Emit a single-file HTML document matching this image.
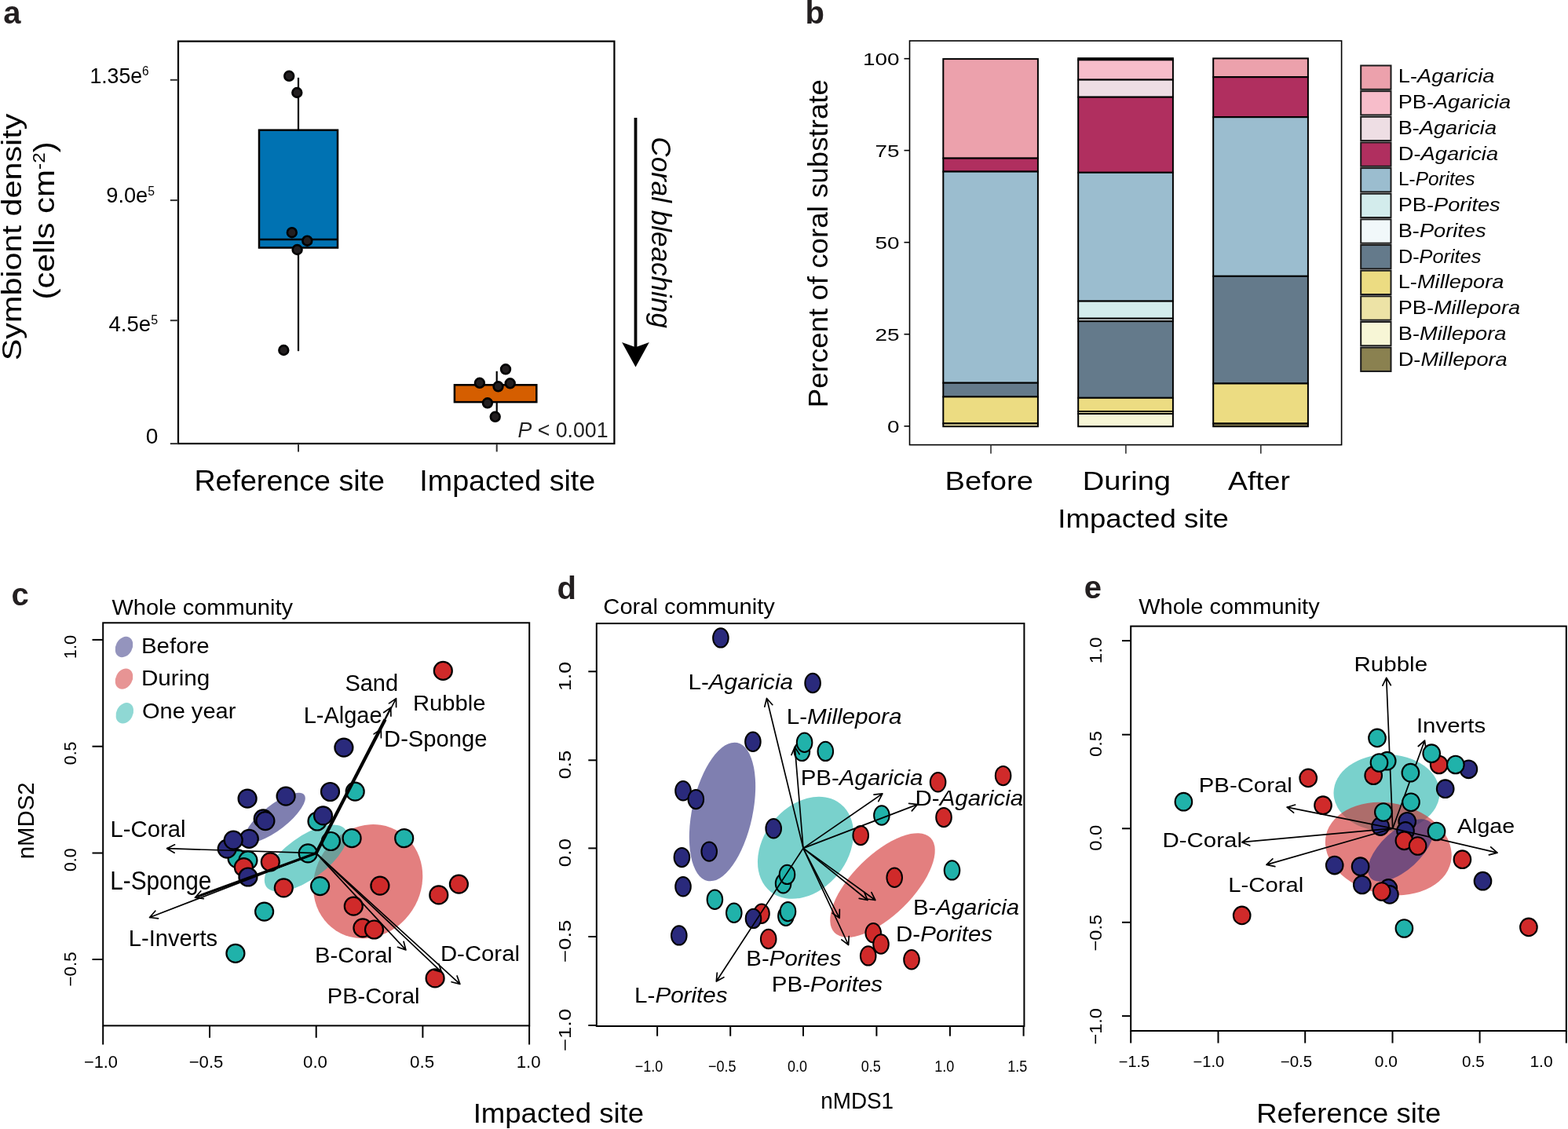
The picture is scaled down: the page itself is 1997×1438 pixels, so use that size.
<!DOCTYPE html>
<html><head><meta charset="utf-8"><title>Coral bleaching figure</title>
<style>
html,body{margin:0;padding:0;background:#fff;}
body{width:1997px;height:1438px;overflow:hidden;}
svg{display:block;}
text{font-family:"Liberation Sans",Arial,Helvetica,sans-serif;font-kerning:none;}
</style></head><body>
<svg width="1997" height="1438" viewBox="0 0 1997 1438">
<rect x="0" y="0" width="1997" height="1438" fill="#fff"/>
<text transform="translate(4.30,29.50) scale(1.0000,1)" font-size="40.00" fill="#231f20" ><tspan font-weight="bold">a</tspan></text>
<rect x="227.00" y="52.60" width="555.40" height="512.40" fill="none" stroke="#000" stroke-width="2.2" />
<line x1="216.80" y1="101.80" x2="227.00" y2="101.80" stroke="#333" stroke-width="2" />
<line x1="216.80" y1="255.10" x2="227.00" y2="255.10" stroke="#333" stroke-width="2" />
<line x1="216.80" y1="408.20" x2="227.00" y2="408.20" stroke="#333" stroke-width="2" />
<line x1="216.80" y1="565.10" x2="227.00" y2="565.10" stroke="#333" stroke-width="2" />
<text transform="translate(114.40,105.50) scale(0.9344,1)" font-size="28.50" fill="#000" ><tspan >1.35e</tspan><tspan font-size="16.50" dy="-9.20">6</tspan></text>
<text transform="translate(135.27,258.30) scale(0.9553,1)" font-size="28.50" fill="#000" ><tspan >9.0e</tspan><tspan font-size="16.50" dy="-9.20">5</tspan></text>
<text transform="translate(138.55,422.30) scale(0.9667,1)" font-size="28.50" fill="#000" ><tspan >4.5e</tspan><tspan font-size="16.50" dy="-9.20">5</tspan></text>
<text transform="translate(185.78,565.40) scale(1.0000,1)" font-size="28.00" fill="#000" ><tspan >0</tspan></text>
<text transform="translate(27.20,459.26) rotate(-90) scale(1.1478,1)" font-size="36.00" fill="#000" ><tspan >Symbiont density</tspan></text>
<text transform="translate(68.90,381.42) rotate(-90) scale(1.1337,1)" font-size="37.00" fill="#000" ><tspan >(cells cm</tspan><tspan font-size="21.50" dy="-12.30">-2</tspan><tspan dy="12.30">)</tspan></text>
<line x1="380.00" y1="98.90" x2="380.00" y2="165.70" stroke="#000" stroke-width="2.2" />
<line x1="380.00" y1="315.50" x2="380.00" y2="447.20" stroke="#000" stroke-width="2.2" />
<rect x="330.00" y="165.70" width="100.00" height="149.80" fill="#0072b2" stroke="#000" stroke-width="2.5" />
<line x1="330.00" y1="305.00" x2="430.00" y2="305.00" stroke="#000" stroke-width="2.5" />
<line x1="632.70" y1="472.80" x2="632.70" y2="490.30" stroke="#000" stroke-width="2.2" />
<line x1="632.70" y1="512.10" x2="632.70" y2="530.30" stroke="#000" stroke-width="2.2" />
<rect x="578.90" y="490.30" width="104.40" height="21.80" fill="#d55e00" stroke="#000" stroke-width="2.5" />
<circle cx="368.2" cy="96.8" r="5.9" fill="#231f20" stroke="#000" stroke-width="2.6"/>
<circle cx="378.3" cy="118.0" r="5.9" fill="#231f20" stroke="#000" stroke-width="2.6"/>
<circle cx="371.8" cy="296.2" r="5.9" fill="#231f20" stroke="#000" stroke-width="2.6"/>
<circle cx="391.3" cy="306.7" r="5.9" fill="#231f20" stroke="#000" stroke-width="2.6"/>
<circle cx="378.6" cy="318.0" r="5.9" fill="#231f20" stroke="#000" stroke-width="2.6"/>
<circle cx="361.3" cy="446.0" r="5.9" fill="#231f20" stroke="#000" stroke-width="2.6"/>
<circle cx="644.0" cy="470.3" r="5.9" fill="#231f20" stroke="#000" stroke-width="2.6"/>
<circle cx="610.9" cy="487.8" r="5.9" fill="#231f20" stroke="#000" stroke-width="2.6"/>
<circle cx="634.5" cy="492.3" r="5.9" fill="#231f20" stroke="#000" stroke-width="2.6"/>
<circle cx="649.7" cy="488.3" r="5.9" fill="#231f20" stroke="#000" stroke-width="2.6"/>
<circle cx="620.9" cy="513.3" r="5.9" fill="#231f20" stroke="#000" stroke-width="2.6"/>
<circle cx="630.7" cy="530.8" r="5.9" fill="#231f20" stroke="#000" stroke-width="2.6"/>
<line x1="380.00" y1="565.00" x2="380.00" y2="575.40" stroke="#333" stroke-width="2" />
<line x1="632.70" y1="565.00" x2="632.70" y2="575.40" stroke="#333" stroke-width="2" />
<text transform="translate(247.39,624.60) scale(1.0280,1)" font-size="36.60" fill="#000" ><tspan >Reference site</tspan></text>
<text transform="translate(534.31,624.60) scale(1.0294,1)" font-size="36.60" fill="#000" ><tspan >Impacted site</tspan></text>
<text transform="translate(659.40,556.60) scale(0.9546,1)" font-size="28.00" fill="#222" ><tspan font-style="italic">P</tspan><tspan > &lt; 0.001</tspan></text>
<line x1="809.50" y1="150.00" x2="809.50" y2="448.00" stroke="#000" stroke-width="3.8" />
<path d="M809.5,467.4 L826.8,436.1 L809.5,442.2 L792.1,436.1 Z" fill="#000"/>
<text transform="translate(830.40,174.37) rotate(90) scale(0.9739,1)" font-size="36.00" fill="#000" ><tspan font-style="italic">Coral bleaching</tspan></text>
<text transform="translate(1025.40,29.50) scale(1.0000,1)" font-size="40.00" fill="#231f20" ><tspan font-weight="bold">b</tspan></text>
<rect x="1158.50" y="52.00" width="550.10" height="514.60" fill="none" stroke="#000" stroke-width="1.6" />
<line x1="1151.50" y1="74.70" x2="1158.50" y2="74.70" stroke="#000" stroke-width="1.6" />
<line x1="1151.50" y1="191.60" x2="1158.50" y2="191.60" stroke="#000" stroke-width="1.6" />
<line x1="1151.50" y1="308.70" x2="1158.50" y2="308.70" stroke="#000" stroke-width="1.6" />
<line x1="1151.50" y1="425.70" x2="1158.50" y2="425.70" stroke="#000" stroke-width="1.6" />
<line x1="1151.50" y1="542.80" x2="1158.50" y2="542.80" stroke="#000" stroke-width="1.6" />
<text transform="translate(1098.96,83.10) scale(1.2500,1)" font-size="22.30" fill="#000" ><tspan >100</tspan></text>
<text transform="translate(1114.57,200.00) scale(1.2500,1)" font-size="22.30" fill="#000" ><tspan >75</tspan></text>
<text transform="translate(1114.43,317.10) scale(1.2500,1)" font-size="22.30" fill="#000" ><tspan >50</tspan></text>
<text transform="translate(1114.57,434.10) scale(1.2500,1)" font-size="22.30" fill="#000" ><tspan >25</tspan></text>
<text transform="translate(1129.90,551.20) scale(1.2500,1)" font-size="22.30" fill="#000" ><tspan >0</tspan></text>
<text transform="translate(1054.20,519.24) rotate(-90) scale(1.0199,1)" font-size="36.00" fill="#000" ><tspan >Percent of coral substrate</tspan></text>
<line x1="1262.00" y1="566.60" x2="1262.00" y2="577.80" stroke="#333" stroke-width="1.6" />
<line x1="1433.90" y1="566.60" x2="1433.90" y2="577.80" stroke="#333" stroke-width="1.6" />
<line x1="1605.80" y1="566.60" x2="1605.80" y2="577.80" stroke="#333" stroke-width="1.6" />
<text transform="translate(1203.55,624.20) scale(1.1379,1)" font-size="33.50" fill="#000" ><tspan >Before</tspan></text>
<text transform="translate(1378.75,624.20) scale(1.1386,1)" font-size="33.50" fill="#000" ><tspan >During</tspan></text>
<text transform="translate(1564.10,624.20) scale(1.1128,1)" font-size="33.50" fill="#000" ><tspan >After</tspan></text>
<text transform="translate(1347.31,672.10) scale(1.0928,1)" font-size="33.50" fill="#000" ><tspan >Impacted site</tspan></text>
<rect x="1201.30" y="75.10" width="120.60" height="126.50" fill="#eca1ac" stroke="#000" stroke-width="2" />
<rect x="1201.30" y="201.60" width="120.60" height="17.00" fill="#b02f5f" stroke="#000" stroke-width="2" />
<rect x="1201.30" y="218.60" width="120.60" height="269.10" fill="#9bbdcf" stroke="#000" stroke-width="2" />
<rect x="1201.30" y="487.70" width="120.60" height="17.70" fill="#647a8b" stroke="#000" stroke-width="2" />
<rect x="1201.30" y="505.40" width="120.60" height="34.00" fill="#ecdc82" stroke="#000" stroke-width="2" />
<rect x="1201.30" y="539.40" width="120.60" height="3.80" fill="#ede3a6" stroke="#000" stroke-width="2" />
<rect x="1373.20" y="74.20" width="120.70" height="2.10" fill="#eca1ac" stroke="#000" stroke-width="2" />
<rect x="1373.20" y="76.30" width="120.70" height="25.30" fill="#f7bdca" stroke="#000" stroke-width="2" />
<rect x="1373.20" y="101.60" width="120.70" height="22.10" fill="#eedee4" stroke="#000" stroke-width="2" />
<rect x="1373.20" y="123.70" width="120.70" height="96.10" fill="#b02f5f" stroke="#000" stroke-width="2" />
<rect x="1373.20" y="219.80" width="120.70" height="163.80" fill="#9bbdcf" stroke="#000" stroke-width="2" />
<rect x="1373.20" y="383.60" width="120.70" height="22.10" fill="#d3ecec" stroke="#000" stroke-width="2" />
<rect x="1373.20" y="405.70" width="120.70" height="3.50" fill="#f1f8fa" stroke="#000" stroke-width="2" />
<rect x="1373.20" y="409.20" width="120.70" height="97.60" fill="#647a8b" stroke="#000" stroke-width="2" />
<rect x="1373.20" y="506.80" width="120.70" height="17.20" fill="#ecdc82" stroke="#000" stroke-width="2" />
<rect x="1373.20" y="524.00" width="120.70" height="3.00" fill="#ede3a6" stroke="#000" stroke-width="2" />
<rect x="1373.20" y="527.00" width="120.70" height="16.20" fill="#f7f6d6" stroke="#000" stroke-width="2" />
<rect x="1545.20" y="74.40" width="120.70" height="23.80" fill="#eca1ac" stroke="#000" stroke-width="2" />
<rect x="1545.20" y="98.20" width="120.70" height="51.00" fill="#b02f5f" stroke="#000" stroke-width="2" />
<rect x="1545.20" y="149.20" width="120.70" height="202.60" fill="#9bbdcf" stroke="#000" stroke-width="2" />
<rect x="1545.20" y="351.80" width="120.70" height="136.70" fill="#647a8b" stroke="#000" stroke-width="2" />
<rect x="1545.20" y="488.50" width="120.70" height="51.00" fill="#ecdc82" stroke="#000" stroke-width="2" />
<rect x="1545.20" y="539.50" width="120.70" height="3.70" fill="#8a8150" stroke="#000" stroke-width="2" />
<rect x="1733.20" y="83.50" width="38.30" height="30.30" fill="#eca1ac" stroke="#1a1a1a" stroke-width="2" />
<text transform="translate(1780.72,105.20) scale(1.1365,1)" font-size="24.00" fill="#000" ><tspan >L-</tspan><tspan font-style="italic">Agaricia</tspan></text>
<rect x="1733.20" y="116.15" width="38.30" height="30.30" fill="#f7bdca" stroke="#1a1a1a" stroke-width="2" />
<text transform="translate(1780.73,137.98) scale(1.1318,1)" font-size="24.00" fill="#000" ><tspan >PB-</tspan><tspan font-style="italic">Agaricia</tspan></text>
<rect x="1733.20" y="148.80" width="38.30" height="30.30" fill="#eedee4" stroke="#1a1a1a" stroke-width="2" />
<text transform="translate(1780.73,170.76) scale(1.1318,1)" font-size="24.00" fill="#000" ><tspan >B-</tspan><tspan font-style="italic">Agaricia</tspan></text>
<rect x="1733.20" y="181.45" width="38.30" height="30.30" fill="#b02f5f" stroke="#1a1a1a" stroke-width="2" />
<text transform="translate(1780.72,203.54) scale(1.1374,1)" font-size="24.00" fill="#000" ><tspan >D-</tspan><tspan font-style="italic">Agaricia</tspan></text>
<rect x="1733.20" y="214.10" width="38.30" height="30.30" fill="#9bbdcf" stroke="#1a1a1a" stroke-width="2" />
<text transform="translate(1780.95,236.32) scale(1.0171,1)" font-size="24.00" fill="#000" ><tspan >L-</tspan><tspan font-style="italic">Porites</tspan></text>
<rect x="1733.20" y="246.75" width="38.30" height="30.30" fill="#d3ecec" stroke="#1a1a1a" stroke-width="2" />
<text transform="translate(1780.72,269.10) scale(1.1334,1)" font-size="24.00" fill="#000" ><tspan >PB-</tspan><tspan font-style="italic">Porites</tspan></text>
<rect x="1733.20" y="279.40" width="38.30" height="30.30" fill="#f1f8fa" stroke="#1a1a1a" stroke-width="2" />
<text transform="translate(1780.72,301.88) scale(1.1333,1)" font-size="24.00" fill="#000" ><tspan >B-</tspan><tspan font-style="italic">Porites</tspan></text>
<rect x="1733.20" y="312.05" width="38.30" height="30.30" fill="#647a8b" stroke="#1a1a1a" stroke-width="2" />
<text transform="translate(1780.88,334.66) scale(1.0545,1)" font-size="24.00" fill="#000" ><tspan >D-</tspan><tspan font-style="italic">Porites</tspan></text>
<rect x="1733.20" y="344.70" width="38.30" height="30.30" fill="#ecdc82" stroke="#1a1a1a" stroke-width="2" />
<text transform="translate(1780.72,367.44) scale(1.1344,1)" font-size="24.00" fill="#000" ><tspan >L-</tspan><tspan font-style="italic">Millepora</tspan></text>
<rect x="1733.20" y="377.35" width="38.30" height="30.30" fill="#ede3a6" stroke="#1a1a1a" stroke-width="2" />
<text transform="translate(1780.73,400.22) scale(1.1304,1)" font-size="24.00" fill="#000" ><tspan >PB-</tspan><tspan font-style="italic">Millepora</tspan></text>
<rect x="1733.20" y="410.00" width="38.30" height="30.30" fill="#f7f6d6" stroke="#1a1a1a" stroke-width="2" />
<text transform="translate(1780.72,433.00) scale(1.1353,1)" font-size="24.00" fill="#000" ><tspan >B-</tspan><tspan font-style="italic">Millepora</tspan></text>
<rect x="1733.20" y="442.65" width="38.30" height="30.30" fill="#8a8150" stroke="#1a1a1a" stroke-width="2" />
<text transform="translate(1780.72,465.78) scale(1.1336,1)" font-size="24.00" fill="#000" ><tspan >D-</tspan><tspan font-style="italic">Millepora</tspan></text>
<text transform="translate(14.40,771.00) scale(1.0000,1)" font-size="40.00" fill="#231f20" ><tspan font-weight="bold">c</tspan></text>
<text transform="translate(142.45,782.50) scale(1.0182,1)" font-size="28.50" fill="#000" ><tspan >Whole community</tspan></text>
<ellipse cx="350.3" cy="1041.3" rx="47.1" ry="16" transform="rotate(-37.8 350.3 1041.3)" fill="#2a2a7c" fill-opacity="0.6"/>
<ellipse cx="468.6" cy="1122.7" rx="67.4" ry="74.7" transform="rotate(33.2 468.6 1122.7)" fill="#d02a2a" fill-opacity="0.6"/>
<ellipse cx="389.5" cy="1093.0" rx="62.1" ry="27" transform="rotate(-35.9 389.5 1093.0)" fill="#20b2aa" fill-opacity="0.6"/>
<ellipse cx="158.0" cy="824.0" rx="10.5" ry="13.8" transform="rotate(28 158.0 824.0)" fill="#2a2a7c" fill-opacity="0.5"/>
<ellipse cx="158.0" cy="864.6" rx="10.5" ry="13.8" transform="rotate(28 158.0 864.6)" fill="#d02a2a" fill-opacity="0.5"/>
<ellipse cx="158.8" cy="908.3" rx="10.5" ry="13.8" transform="rotate(28 158.8 908.3)" fill="#20b2aa" fill-opacity="0.5"/>
<text transform="translate(179.94,832.20) scale(1.0340,1)" font-size="28.50" fill="#000" ><tspan >Before</tspan></text>
<text transform="translate(179.93,873.20) scale(1.0414,1)" font-size="28.50" fill="#000" ><tspan >During</tspan></text>
<text transform="translate(180.99,915.30) scale(1.0180,1)" font-size="28.50" fill="#000" ><tspan >One year</tspan></text>
<circle cx="302.1" cy="1093.6" r="11.5" fill="#20b2aa" stroke="#000" stroke-width="2.2"/>
<circle cx="315.9" cy="1095.8" r="11.5" fill="#20b2aa" stroke="#000" stroke-width="2.2"/>
<circle cx="392.2" cy="1086.8" r="11.5" fill="#20b2aa" stroke="#000" stroke-width="2.2"/>
<circle cx="421.4" cy="1071.5" r="11.5" fill="#20b2aa" stroke="#000" stroke-width="2.2"/>
<circle cx="448.1" cy="1067.7" r="11.5" fill="#20b2aa" stroke="#000" stroke-width="2.2"/>
<circle cx="514.7" cy="1067.7" r="11.5" fill="#20b2aa" stroke="#000" stroke-width="2.2"/>
<circle cx="404.0" cy="1046.0" r="11.5" fill="#20b2aa" stroke="#000" stroke-width="2.2"/>
<circle cx="452.2" cy="1008.2" r="11.5" fill="#20b2aa" stroke="#000" stroke-width="2.2"/>
<circle cx="407.6" cy="1128.6" r="11.5" fill="#20b2aa" stroke="#000" stroke-width="2.2"/>
<circle cx="336.6" cy="1161.1" r="11.5" fill="#20b2aa" stroke="#000" stroke-width="2.2"/>
<circle cx="299.9" cy="1214.3" r="11.5" fill="#20b2aa" stroke="#000" stroke-width="2.2"/>
<circle cx="564.3" cy="854.4" r="11.5" fill="#d02a2a" stroke="#000" stroke-width="2.2"/>
<circle cx="310.4" cy="1104.7" r="11.5" fill="#d02a2a" stroke="#000" stroke-width="2.2"/>
<circle cx="344.3" cy="1097.8" r="11.5" fill="#d02a2a" stroke="#000" stroke-width="2.2"/>
<circle cx="361.3" cy="1130.8" r="11.5" fill="#d02a2a" stroke="#000" stroke-width="2.2"/>
<circle cx="483.9" cy="1128.1" r="11.5" fill="#d02a2a" stroke="#000" stroke-width="2.2"/>
<circle cx="584.4" cy="1126.1" r="11.5" fill="#d02a2a" stroke="#000" stroke-width="2.2"/>
<circle cx="558.8" cy="1139.9" r="11.5" fill="#d02a2a" stroke="#000" stroke-width="2.2"/>
<circle cx="450.3" cy="1154.2" r="11.5" fill="#d02a2a" stroke="#000" stroke-width="2.2"/>
<circle cx="461.9" cy="1181.8" r="11.5" fill="#d02a2a" stroke="#000" stroke-width="2.2"/>
<circle cx="476.5" cy="1184.0" r="11.5" fill="#d02a2a" stroke="#000" stroke-width="2.2"/>
<circle cx="554.1" cy="1245.9" r="11.5" fill="#d02a2a" stroke="#000" stroke-width="2.2"/>
<circle cx="437.9" cy="952.1" r="11.5" fill="#2a2a7c" stroke="#000" stroke-width="2.2"/>
<circle cx="420.5" cy="1008.5" r="11.5" fill="#2a2a7c" stroke="#000" stroke-width="2.2"/>
<circle cx="315.1" cy="1017.2" r="11.5" fill="#2a2a7c" stroke="#000" stroke-width="2.2"/>
<circle cx="364.1" cy="1014.2" r="11.5" fill="#2a2a7c" stroke="#000" stroke-width="2.2"/>
<circle cx="335.2" cy="1042.9" r="11.5" fill="#2a2a7c" stroke="#000" stroke-width="2.2"/>
<circle cx="337.9" cy="1045.6" r="11.5" fill="#2a2a7c" stroke="#000" stroke-width="2.2"/>
<circle cx="411.5" cy="1038.8" r="11.5" fill="#2a2a7c" stroke="#000" stroke-width="2.2"/>
<circle cx="317.3" cy="1068.3" r="11.5" fill="#2a2a7c" stroke="#000" stroke-width="2.2"/>
<circle cx="289.2" cy="1081.1" r="11.5" fill="#2a2a7c" stroke="#000" stroke-width="2.2"/>
<circle cx="297.2" cy="1070.1" r="11.5" fill="#2a2a7c" stroke="#000" stroke-width="2.2"/>
<circle cx="315.9" cy="1117.0" r="11.5" fill="#2a2a7c" stroke="#000" stroke-width="2.2"/>
<line x1="402.60" y1="1086.70" x2="490.50" y2="916.50" stroke="#000" stroke-width="4.2" />
<line x1="402.60" y1="1086.70" x2="252.00" y2="1141.80" stroke="#000" stroke-width="3.2" />
<path d="M402.6,1086.7L212.6,1080.7M222.5,1075.8L212.6,1080.7L222.1,1086.2" fill="none" stroke="#000" stroke-width="1.7" stroke-linecap="round" stroke-linejoin="round"/>
<path d="M402.6,1086.7L248.4,1143.2M255.7,1135.0L248.4,1143.2L259.3,1144.7" fill="none" stroke="#000" stroke-width="1.7" stroke-linecap="round" stroke-linejoin="round"/>
<path d="M402.6,1086.7L190.6,1168.5M197.8,1160.2L190.6,1168.5L201.5,1169.8" fill="none" stroke="#000" stroke-width="1.7" stroke-linecap="round" stroke-linejoin="round"/>
<path d="M402.6,1086.7L516.9,1209.9M506.5,1206.3L516.9,1209.9L514.1,1199.3" fill="none" stroke="#000" stroke-width="1.7" stroke-linecap="round" stroke-linejoin="round"/>
<path d="M402.6,1086.7L562.4,1238.2M551.8,1235.3L562.4,1238.2L558.9,1227.8" fill="none" stroke="#000" stroke-width="1.7" stroke-linecap="round" stroke-linejoin="round"/>
<path d="M402.6,1086.7L585.8,1253.4M575.1,1250.7L585.8,1253.4L582.1,1243.0" fill="none" stroke="#000" stroke-width="1.7" stroke-linecap="round" stroke-linejoin="round"/>
<path d="M402.6,1086.7L504.5,889.6M504.6,900.6L504.5,889.6L495.5,895.9" fill="none" stroke="#000" stroke-width="1.7" stroke-linecap="round" stroke-linejoin="round"/>
<path d="M402.6,1086.7L497.7,901.2M497.9,912.2L497.7,901.2L488.7,907.5" fill="none" stroke="#000" stroke-width="1.7" stroke-linecap="round" stroke-linejoin="round"/>
<path d="M402.6,1086.7L485.3,928.7M485.4,939.7L485.3,928.7L476.2,934.9" fill="none" stroke="#000" stroke-width="1.7" stroke-linecap="round" stroke-linejoin="round"/>
<text transform="translate(140.56,1066.30) scale(0.9988,1)" font-size="29.30" fill="#000" ><tspan >L-Coral</tspan></text>
<text transform="translate(140.22,1132.90) scale(0.9081,1)" font-size="32.80" fill="#000" ><tspan >L-Sponge</tspan></text>
<text transform="translate(163.77,1204.80) scale(1.0083,1)" font-size="28.90" fill="#000" ><tspan >L-Inverts</tspan></text>
<text transform="translate(400.97,1226.00) scale(1.0612,1)" font-size="27.50" fill="#000" ><tspan >B-Coral</tspan></text>
<text transform="translate(560.95,1223.90) scale(1.0552,1)" font-size="27.80" fill="#000" ><tspan >D-Coral</tspan></text>
<text transform="translate(416.78,1278.30) scale(1.0565,1)" font-size="27.50" fill="#000" ><tspan >PB-Coral</tspan></text>
<text transform="translate(439.40,879.70) scale(0.9996,1)" font-size="29.00" fill="#000" ><tspan >Sand</tspan></text>
<text transform="translate(525.96,905.10) scale(1.0540,1)" font-size="27.70" fill="#000" ><tspan >Rubble</tspan></text>
<text transform="translate(386.68,921.10) scale(0.9992,1)" font-size="29.00" fill="#000" ><tspan >L-Algae</tspan></text>
<text transform="translate(489.06,950.80) scale(1.0100,1)" font-size="28.90" fill="#000" ><tspan >D-Sponge</tspan></text>
<rect x="131.20" y="793.30" width="543.00" height="513.10" fill="none" stroke="#000" stroke-width="2" />
<line x1="117.50" y1="814.90" x2="131.20" y2="814.90" stroke="#000" stroke-width="2" />
<line x1="117.50" y1="950.70" x2="131.20" y2="950.70" stroke="#000" stroke-width="2" />
<line x1="117.50" y1="1086.50" x2="131.20" y2="1086.50" stroke="#000" stroke-width="2" />
<line x1="117.50" y1="1222.00" x2="131.20" y2="1222.00" stroke="#000" stroke-width="2" />
<line x1="131.20" y1="1306.40" x2="131.20" y2="1330.50" stroke="#000" stroke-width="2" />
<line x1="267.00" y1="1306.40" x2="267.00" y2="1321.80" stroke="#000" stroke-width="2" />
<line x1="402.70" y1="1306.40" x2="402.70" y2="1321.80" stroke="#000" stroke-width="2" />
<line x1="538.40" y1="1306.40" x2="538.40" y2="1321.80" stroke="#000" stroke-width="2" />
<line x1="674.10" y1="1306.40" x2="674.10" y2="1330.50" stroke="#000" stroke-width="2" />
<text transform="translate(96.80,839.13) rotate(-90) scale(1.0009,1)" font-size="21.70" fill="#000" ><tspan >1.0</tspan></text>
<text transform="translate(96.80,974.15) rotate(-90) scale(0.9779,1)" font-size="21.70" fill="#000" ><tspan >0.5</tspan></text>
<text transform="translate(96.80,1109.95) rotate(-90) scale(0.9742,1)" font-size="21.70" fill="#000" ><tspan >0.0</tspan></text>
<text transform="translate(96.80,1256.41) rotate(-90) scale(1.0268,1)" font-size="21.70" fill="#000" ><tspan >−0.5</tspan></text>
<text transform="translate(106.91,1360.20) scale(1.0164,1)" font-size="21.50" fill="#000" ><tspan >−1.0</tspan></text>
<text transform="translate(240.69,1360.20) scale(1.0289,1)" font-size="21.50" fill="#000" ><tspan >−0.5</tspan></text>
<text transform="translate(386.11,1360.20) scale(1.0328,1)" font-size="21.50" fill="#000" ><tspan >0.0</tspan></text>
<text transform="translate(522.01,1360.20) scale(1.0403,1)" font-size="21.50" fill="#000" ><tspan >0.5</tspan></text>
<text transform="translate(657.63,1360.20) scale(1.0356,1)" font-size="21.50" fill="#000" ><tspan >1.0</tspan></text>
<text transform="translate(43.40,1094.31) rotate(-90) scale(1.0131,1)" font-size="29.00" fill="#000" ><tspan >nMDS2</tspan></text>
<text transform="translate(602.71,1429.90) scale(1.0178,1)" font-size="35.90" fill="#000" ><tspan >Impacted site</tspan></text>
<text transform="translate(709.60,762.60) scale(1.0000,1)" font-size="40.00" fill="#231f20" ><tspan font-weight="bold">d</tspan></text>
<text transform="translate(768.34,782.10) scale(1.0225,1)" font-size="28.50" fill="#000" ><tspan >Coral community</tspan></text>
<ellipse cx="920.0" cy="1034.0" rx="38.5" ry="90" transform="rotate(12.2 920.0 1034.0)" fill="#2a2a7c" fill-opacity="0.6"/>
<ellipse cx="1026.0" cy="1079.8" rx="53.3" ry="71.5" transform="rotate(38.6 1026.0 1079.8)" fill="#20b2aa" fill-opacity="0.6"/>
<ellipse cx="1124.0" cy="1127.5" rx="38.4" ry="85.9" transform="rotate(45.3 1124.0 1127.5)" fill="#d02a2a" fill-opacity="0.6"/>
<ellipse cx="917.9" cy="812.4" rx="9.8" ry="12.2" fill="#2a2a7c" stroke="#000" stroke-width="2.0"/>
<ellipse cx="1035.1" cy="870.0" rx="9.8" ry="12.2" fill="#2a2a7c" stroke="#000" stroke-width="2.0"/>
<ellipse cx="958.9" cy="944.8" rx="9.8" ry="12.2" fill="#2a2a7c" stroke="#000" stroke-width="2.0"/>
<ellipse cx="1021.4" cy="956.9" rx="9.8" ry="12.2" fill="#20b2aa" stroke="#000" stroke-width="2.0"/>
<ellipse cx="1024.6" cy="945.8" rx="9.8" ry="12.2" fill="#20b2aa" stroke="#000" stroke-width="2.0"/>
<ellipse cx="1051.3" cy="956.9" rx="9.8" ry="12.2" fill="#20b2aa" stroke="#000" stroke-width="2.0"/>
<ellipse cx="870.0" cy="1007.3" rx="9.8" ry="12.2" fill="#2a2a7c" stroke="#000" stroke-width="2.0"/>
<ellipse cx="886.3" cy="1018.1" rx="9.8" ry="12.2" fill="#2a2a7c" stroke="#000" stroke-width="2.0"/>
<ellipse cx="1194.6" cy="996.3" rx="9.8" ry="12.2" fill="#d02a2a" stroke="#000" stroke-width="2.0"/>
<ellipse cx="1277.6" cy="988.1" rx="9.8" ry="12.2" fill="#d02a2a" stroke="#000" stroke-width="2.0"/>
<ellipse cx="1122.9" cy="1038.5" rx="9.8" ry="12.2" fill="#20b2aa" stroke="#000" stroke-width="2.0"/>
<ellipse cx="1202.0" cy="1041.1" rx="9.8" ry="12.2" fill="#d02a2a" stroke="#000" stroke-width="2.0"/>
<ellipse cx="985.2" cy="1055.3" rx="9.8" ry="12.2" fill="#2a2a7c" stroke="#000" stroke-width="2.0"/>
<ellipse cx="1096.2" cy="1064.1" rx="9.8" ry="12.2" fill="#d02a2a" stroke="#000" stroke-width="2.0"/>
<ellipse cx="903.2" cy="1084.6" rx="9.8" ry="12.2" fill="#2a2a7c" stroke="#000" stroke-width="2.0"/>
<ellipse cx="868.4" cy="1092.1" rx="9.8" ry="12.2" fill="#2a2a7c" stroke="#000" stroke-width="2.0"/>
<ellipse cx="1212.5" cy="1108.4" rx="9.8" ry="12.2" fill="#20b2aa" stroke="#000" stroke-width="2.0"/>
<ellipse cx="1139.2" cy="1117.8" rx="9.8" ry="12.2" fill="#d02a2a" stroke="#000" stroke-width="2.0"/>
<ellipse cx="997.6" cy="1125.3" rx="9.8" ry="12.2" fill="#20b2aa" stroke="#000" stroke-width="2.0"/>
<ellipse cx="1002.5" cy="1113.9" rx="9.8" ry="12.2" fill="#20b2aa" stroke="#000" stroke-width="2.0"/>
<ellipse cx="870.0" cy="1129.2" rx="9.8" ry="12.2" fill="#2a2a7c" stroke="#000" stroke-width="2.0"/>
<ellipse cx="910.4" cy="1145.8" rx="9.8" ry="12.2" fill="#20b2aa" stroke="#000" stroke-width="2.0"/>
<ellipse cx="934.8" cy="1162.8" rx="9.8" ry="12.2" fill="#20b2aa" stroke="#000" stroke-width="2.0"/>
<ellipse cx="970.0" cy="1163.7" rx="9.8" ry="12.2" fill="#d02a2a" stroke="#000" stroke-width="2.0"/>
<ellipse cx="959.5" cy="1169.9" rx="9.8" ry="12.2" fill="#2a2a7c" stroke="#000" stroke-width="2.0"/>
<ellipse cx="1000.9" cy="1166.7" rx="9.8" ry="12.2" fill="#20b2aa" stroke="#000" stroke-width="2.0"/>
<ellipse cx="1003.5" cy="1161.1" rx="9.8" ry="12.2" fill="#20b2aa" stroke="#000" stroke-width="2.0"/>
<ellipse cx="864.8" cy="1191.4" rx="9.8" ry="12.2" fill="#2a2a7c" stroke="#000" stroke-width="2.0"/>
<ellipse cx="978.7" cy="1196.0" rx="9.8" ry="12.2" fill="#d02a2a" stroke="#000" stroke-width="2.0"/>
<ellipse cx="1112.2" cy="1188.2" rx="9.8" ry="12.2" fill="#d02a2a" stroke="#000" stroke-width="2.0"/>
<ellipse cx="1122.0" cy="1202.5" rx="9.8" ry="12.2" fill="#d02a2a" stroke="#000" stroke-width="2.0"/>
<ellipse cx="1105.7" cy="1217.4" rx="9.8" ry="12.2" fill="#d02a2a" stroke="#000" stroke-width="2.0"/>
<ellipse cx="1161.0" cy="1222.3" rx="9.8" ry="12.2" fill="#d02a2a" stroke="#000" stroke-width="2.0"/>
<path d="M1023.0,1080.4L976.5,889.5M983.8,897.7L976.5,889.5L973.8,900.2" fill="none" stroke="#000" stroke-width="1.7" stroke-linecap="round" stroke-linejoin="round"/>
<path d="M1023.0,1080.4L1012.3,951.4M1018.2,960.7L1012.3,951.4L1008.0,961.5" fill="none" stroke="#000" stroke-width="1.7" stroke-linecap="round" stroke-linejoin="round"/>
<path d="M1023.0,1080.4L1123.9,1010.9M1118.8,1020.7L1123.9,1010.9L1113.0,1012.2" fill="none" stroke="#000" stroke-width="1.7" stroke-linecap="round" stroke-linejoin="round"/>
<path d="M1023.0,1080.4L1168.5,1024.6M1161.3,1032.9L1168.5,1024.6L1157.6,1023.3" fill="none" stroke="#000" stroke-width="1.7" stroke-linecap="round" stroke-linejoin="round"/>
<path d="M1023.0,1080.4L1114.8,1146.5M1103.9,1145.0L1114.8,1146.5L1109.9,1136.6" fill="none" stroke="#000" stroke-width="1.7" stroke-linecap="round" stroke-linejoin="round"/>
<path d="M1023.0,1080.4L1105.0,1146.5M1094.2,1144.4L1105.0,1146.5L1100.7,1136.4" fill="none" stroke="#000" stroke-width="1.7" stroke-linecap="round" stroke-linejoin="round"/>
<path d="M1023.0,1080.4L1069.2,1169.3M1060.1,1163.1L1069.2,1169.3L1069.3,1158.3" fill="none" stroke="#000" stroke-width="1.7" stroke-linecap="round" stroke-linejoin="round"/>
<path d="M1023.0,1080.4L1080.6,1203.5M1071.8,1196.9L1080.6,1203.5L1081.2,1192.5" fill="none" stroke="#000" stroke-width="1.7" stroke-linecap="round" stroke-linejoin="round"/>
<path d="M1023.0,1080.4L912.3,1250.0M913.3,1239.0L912.3,1250.0L921.9,1244.7" fill="none" stroke="#000" stroke-width="1.7" stroke-linecap="round" stroke-linejoin="round"/>
<text transform="translate(876.42,878.10) scale(1.0418,1)" font-size="28.50" fill="#000" ><tspan >L-</tspan><tspan font-style="italic">Agaricia</tspan></text>
<text transform="translate(1001.73,922.10) scale(1.0410,1)" font-size="28.50" fill="#000" ><tspan >L-</tspan><tspan font-style="italic">Millepora</tspan></text>
<text transform="translate(1019.64,1000.20) scale(1.0353,1)" font-size="28.50" fill="#000" ><tspan >PB-</tspan><tspan font-style="italic">Agaricia</tspan></text>
<text transform="translate(1165.54,1026.20) scale(1.0341,1)" font-size="28.50" fill="#000" ><tspan >D-</tspan><tspan font-style="italic">Agaricia</tspan></text>
<text transform="translate(1162.95,1165.40) scale(1.0288,1)" font-size="28.50" fill="#000" ><tspan >B-</tspan><tspan font-style="italic">Agaricia</tspan></text>
<text transform="translate(1141.04,1198.60) scale(1.0363,1)" font-size="28.50" fill="#000" ><tspan >D-</tspan><tspan font-style="italic">Porites</tspan></text>
<text transform="translate(950.34,1229.50) scale(1.0330,1)" font-size="28.50" fill="#000" ><tspan >B-</tspan><tspan font-style="italic">Porites</tspan></text>
<text transform="translate(982.83,1263.00) scale(1.0376,1)" font-size="28.50" fill="#000" ><tspan >PB-</tspan><tspan font-style="italic">Porites</tspan></text>
<text transform="translate(808.03,1277.30) scale(1.0400,1)" font-size="28.50" fill="#000" ><tspan >L-</tspan><tspan font-style="italic">Porites</tspan></text>
<rect x="759.80" y="794.10" width="544.60" height="512.90" fill="none" stroke="#000" stroke-width="2" />
<line x1="749.30" y1="855.30" x2="759.80" y2="855.30" stroke="#000" stroke-width="2" />
<line x1="749.30" y1="968.30" x2="759.80" y2="968.30" stroke="#000" stroke-width="2" />
<line x1="749.30" y1="1080.40" x2="759.80" y2="1080.40" stroke="#000" stroke-width="2" />
<line x1="749.30" y1="1193.00" x2="759.80" y2="1193.00" stroke="#000" stroke-width="2" />
<line x1="749.30" y1="1306.00" x2="759.80" y2="1306.00" stroke="#000" stroke-width="2" />
<line x1="837.10" y1="1307.00" x2="837.10" y2="1319.70" stroke="#000" stroke-width="2" />
<line x1="930.20" y1="1307.00" x2="930.20" y2="1319.70" stroke="#000" stroke-width="2" />
<line x1="1023.00" y1="1307.00" x2="1023.00" y2="1319.70" stroke="#000" stroke-width="2" />
<line x1="1116.40" y1="1307.00" x2="1116.40" y2="1319.70" stroke="#000" stroke-width="2" />
<line x1="1209.90" y1="1307.00" x2="1209.90" y2="1319.70" stroke="#000" stroke-width="2" />
<line x1="1303.60" y1="1307.00" x2="1303.60" y2="1319.70" stroke="#000" stroke-width="2" />
<text transform="translate(726.70,880.12) rotate(-90) scale(1.2385,1)" font-size="21.70" fill="#000" ><tspan >1.0</tspan></text>
<text transform="translate(726.70,992.15) rotate(-90) scale(1.2101,1)" font-size="21.70" fill="#000" ><tspan >0.5</tspan></text>
<text transform="translate(726.70,1104.25) rotate(-90) scale(1.2055,1)" font-size="21.70" fill="#000" ><tspan >0.0</tspan></text>
<text transform="translate(726.70,1225.98) rotate(-90) scale(1.2713,1)" font-size="21.70" fill="#000" ><tspan >−0.5</tspan></text>
<text transform="translate(726.70,1338.98) rotate(-90) scale(1.2679,1)" font-size="21.70" fill="#000" ><tspan >−1.0</tspan></text>
<text transform="translate(808.79,1365.30) scale(0.9000,1)" font-size="20.00" fill="#000" ><tspan >−1.0</tspan></text>
<text transform="translate(901.93,1365.30) scale(0.9000,1)" font-size="20.00" fill="#000" ><tspan >−0.5</tspan></text>
<text transform="translate(1002.94,1365.30) scale(0.9000,1)" font-size="20.00" fill="#000" ><tspan >0.0</tspan></text>
<text transform="translate(1096.79,1365.30) scale(0.9000,1)" font-size="20.00" fill="#000" ><tspan >0.5</tspan></text>
<text transform="translate(1190.13,1365.30) scale(0.9000,1)" font-size="20.00" fill="#000" ><tspan >1.0</tspan></text>
<text transform="translate(1283.28,1365.30) scale(0.9000,1)" font-size="20.00" fill="#000" ><tspan >1.5</tspan></text>
<text transform="translate(1045.19,1411.80) scale(0.9646,1)" font-size="28.90" fill="#000" ><tspan >nMDS1</tspan></text>
<text transform="translate(1380.70,761.90) scale(1.0000,1)" font-size="40.00" fill="#231f20" ><tspan font-weight="bold">e</tspan></text>
<text transform="translate(1450.15,781.70) scale(1.0182,1)" font-size="28.50" fill="#000" ><tspan >Whole community</tspan></text>
<ellipse cx="1766.0" cy="1010.0" rx="67.5" ry="49" transform="rotate(0 1766.0 1010.0)" fill="#20b2aa" fill-opacity="0.6"/>
<ellipse cx="1768.3" cy="1081.0" rx="81.3" ry="58" transform="rotate(12 1768.3 1081.0)" fill="#d02a2a" fill-opacity="0.6"/>
<ellipse cx="1784.0" cy="1083.0" rx="52" ry="25" transform="rotate(-42.5 1784.0 1083.0)" fill="#2a2a7c" fill-opacity="0.6"/>
<ellipse cx="1870.4" cy="979.8" rx="10.8" ry="11.3" fill="#2a2a7c" stroke="#000" stroke-width="2.1"/>
<ellipse cx="1840.7" cy="1004.7" rx="10.8" ry="11.3" fill="#2a2a7c" stroke="#000" stroke-width="2.1"/>
<ellipse cx="1758.1" cy="1052.6" rx="10.8" ry="11.3" fill="#2a2a7c" stroke="#000" stroke-width="2.1"/>
<ellipse cx="1792.2" cy="1046.3" rx="10.8" ry="11.3" fill="#2a2a7c" stroke="#000" stroke-width="2.1"/>
<ellipse cx="1790.0" cy="1058.4" rx="10.8" ry="11.3" fill="#2a2a7c" stroke="#000" stroke-width="2.1"/>
<ellipse cx="1699.7" cy="1102.1" rx="10.8" ry="11.3" fill="#2a2a7c" stroke="#000" stroke-width="2.1"/>
<ellipse cx="1732.6" cy="1103.7" rx="10.8" ry="11.3" fill="#2a2a7c" stroke="#000" stroke-width="2.1"/>
<ellipse cx="1734.8" cy="1127.0" rx="10.8" ry="11.3" fill="#2a2a7c" stroke="#000" stroke-width="2.1"/>
<ellipse cx="1768.3" cy="1131.4" rx="10.8" ry="11.3" fill="#2a2a7c" stroke="#000" stroke-width="2.1"/>
<ellipse cx="1769.9" cy="1139.4" rx="10.8" ry="11.3" fill="#2a2a7c" stroke="#000" stroke-width="2.1"/>
<ellipse cx="1888.5" cy="1122.2" rx="10.8" ry="11.3" fill="#2a2a7c" stroke="#000" stroke-width="2.1"/>
<ellipse cx="1749.2" cy="987.7" rx="10.8" ry="11.3" fill="#d02a2a" stroke="#000" stroke-width="2.1"/>
<ellipse cx="1832.7" cy="974.0" rx="10.8" ry="11.3" fill="#d02a2a" stroke="#000" stroke-width="2.1"/>
<ellipse cx="1666.2" cy="990.9" rx="10.8" ry="11.3" fill="#d02a2a" stroke="#000" stroke-width="2.1"/>
<ellipse cx="1685.0" cy="1025.7" rx="10.8" ry="11.3" fill="#d02a2a" stroke="#000" stroke-width="2.1"/>
<ellipse cx="1788.4" cy="1070.8" rx="10.8" ry="11.3" fill="#d02a2a" stroke="#000" stroke-width="2.1"/>
<ellipse cx="1805.6" cy="1077.5" rx="10.8" ry="11.3" fill="#d02a2a" stroke="#000" stroke-width="2.1"/>
<ellipse cx="1862.4" cy="1094.7" rx="10.8" ry="11.3" fill="#d02a2a" stroke="#000" stroke-width="2.1"/>
<ellipse cx="1759.7" cy="1135.6" rx="10.8" ry="11.3" fill="#d02a2a" stroke="#000" stroke-width="2.1"/>
<ellipse cx="1581.7" cy="1165.9" rx="10.8" ry="11.3" fill="#d02a2a" stroke="#000" stroke-width="2.1"/>
<ellipse cx="1946.9" cy="1180.9" rx="10.8" ry="11.3" fill="#d02a2a" stroke="#000" stroke-width="2.1"/>
<path d="M1773.7,1055.2L1765.7,863.3M1771.3,872.8L1765.7,863.3L1760.9,873.2" fill="none" stroke="#000" stroke-width="1.7" stroke-linecap="round" stroke-linejoin="round"/>
<path d="M1773.7,1055.2L1814.5,943.1M1816.0,954.0L1814.5,943.1L1806.3,950.5" fill="none" stroke="#000" stroke-width="1.7" stroke-linecap="round" stroke-linejoin="round"/>
<path d="M1773.7,1055.2L1639.1,1028.2M1649.6,1025.0L1639.1,1028.2L1647.6,1035.2" fill="none" stroke="#000" stroke-width="1.7" stroke-linecap="round" stroke-linejoin="round"/>
<path d="M1773.7,1055.2L1581.7,1072.7M1590.9,1066.7L1581.7,1072.7L1591.8,1077.0" fill="none" stroke="#000" stroke-width="1.7" stroke-linecap="round" stroke-linejoin="round"/>
<path d="M1773.7,1055.2L1613.0,1101.4M1620.9,1093.8L1613.0,1101.4L1623.8,1103.7" fill="none" stroke="#000" stroke-width="1.7" stroke-linecap="round" stroke-linejoin="round"/>
<path d="M1773.7,1055.2L1907.0,1086.1M1896.4,1088.9L1907.0,1086.1L1898.7,1078.9" fill="none" stroke="#000" stroke-width="1.7" stroke-linecap="round" stroke-linejoin="round"/>
<ellipse cx="1754.0" cy="939.9" rx="10.8" ry="11.3" fill="#20b2aa" stroke="#000" stroke-width="2.1"/>
<ellipse cx="1766.7" cy="969.2" rx="10.8" ry="11.3" fill="#20b2aa" stroke="#000" stroke-width="2.1"/>
<ellipse cx="1756.5" cy="971.5" rx="10.8" ry="11.3" fill="#20b2aa" stroke="#000" stroke-width="2.1"/>
<ellipse cx="1796.4" cy="984.2" rx="10.8" ry="11.3" fill="#20b2aa" stroke="#000" stroke-width="2.1"/>
<ellipse cx="1823.2" cy="959.7" rx="10.8" ry="11.3" fill="#20b2aa" stroke="#000" stroke-width="2.1"/>
<ellipse cx="1853.8" cy="974.0" rx="10.8" ry="11.3" fill="#20b2aa" stroke="#000" stroke-width="2.1"/>
<ellipse cx="1507.4" cy="1021.2" rx="10.8" ry="11.3" fill="#20b2aa" stroke="#000" stroke-width="2.1"/>
<ellipse cx="1797.0" cy="1021.8" rx="10.8" ry="11.3" fill="#20b2aa" stroke="#000" stroke-width="2.1"/>
<ellipse cx="1761.9" cy="1034.5" rx="10.8" ry="11.3" fill="#20b2aa" stroke="#000" stroke-width="2.1"/>
<ellipse cx="1829.5" cy="1059.0" rx="10.8" ry="11.3" fill="#20b2aa" stroke="#000" stroke-width="2.1"/>
<ellipse cx="1788.4" cy="1182.5" rx="10.8" ry="11.3" fill="#20b2aa" stroke="#000" stroke-width="2.1"/>
<text transform="translate(1724.44,855.00) scale(1.1591,1)" font-size="25.50" fill="#000" ><tspan >Rubble</tspan></text>
<text transform="translate(1803.95,932.90) scale(1.1526,1)" font-size="25.50" fill="#000" ><tspan >Inverts</tspan></text>
<text transform="translate(1526.75,1009.10) scale(1.1514,1)" font-size="25.50" fill="#000" ><tspan >PB-Coral</tspan></text>
<text transform="translate(1856.00,1060.60) scale(1.1218,1)" font-size="25.50" fill="#000" ><tspan >Algae</tspan></text>
<text transform="translate(1480.44,1079.10) scale(1.1563,1)" font-size="25.50" fill="#000" ><tspan >D-Coral</tspan></text>
<text transform="translate(1564.36,1135.60) scale(1.1464,1)" font-size="25.50" fill="#000" ><tspan >L-Coral</tspan></text>
<rect x="1440.20" y="797.60" width="554.60" height="515.40" fill="none" stroke="#000" stroke-width="2" />
<line x1="1429.00" y1="816.10" x2="1440.20" y2="816.10" stroke="#000" stroke-width="2" />
<line x1="1429.00" y1="935.70" x2="1440.20" y2="935.70" stroke="#000" stroke-width="2" />
<line x1="1429.00" y1="1055.30" x2="1440.20" y2="1055.30" stroke="#000" stroke-width="2" />
<line x1="1429.00" y1="1174.80" x2="1440.20" y2="1174.80" stroke="#000" stroke-width="2" />
<line x1="1429.00" y1="1294.10" x2="1440.20" y2="1294.10" stroke="#000" stroke-width="2" />
<line x1="1440.20" y1="1313.00" x2="1440.20" y2="1328.60" stroke="#000" stroke-width="2" />
<line x1="1551.50" y1="1313.00" x2="1551.50" y2="1328.60" stroke="#000" stroke-width="2" />
<line x1="1662.20" y1="1313.00" x2="1662.20" y2="1328.60" stroke="#000" stroke-width="2" />
<line x1="1773.50" y1="1313.00" x2="1773.50" y2="1328.60" stroke="#000" stroke-width="2" />
<line x1="1884.60" y1="1313.00" x2="1884.60" y2="1328.60" stroke="#000" stroke-width="2" />
<line x1="1994.80" y1="1313.00" x2="1994.80" y2="1328.60" stroke="#000" stroke-width="2" />
<text transform="translate(1403.30,845.33) rotate(-90) scale(1.0785,1)" font-size="22.60" fill="#000" ><tspan >1.0</tspan></text>
<text transform="translate(1403.30,964.05) rotate(-90) scale(1.0538,1)" font-size="22.60" fill="#000" ><tspan >0.5</tspan></text>
<text transform="translate(1403.30,1083.85) rotate(-90) scale(1.0498,1)" font-size="22.60" fill="#000" ><tspan >0.0</tspan></text>
<text transform="translate(1403.30,1211.38) rotate(-90) scale(1.0422,1)" font-size="22.60" fill="#000" ><tspan >−0.5</tspan></text>
<text transform="translate(1403.30,1330.47) rotate(-90) scale(1.0395,1)" font-size="22.60" fill="#000" ><tspan >−1.0</tspan></text>
<text transform="translate(1424.70,1358.60) scale(1.0256,1)" font-size="19.50" fill="#000" ><tspan >−1.5</tspan></text>
<text transform="translate(1519.59,1358.60) scale(1.0311,1)" font-size="19.50" fill="#000" ><tspan >−1.0</tspan></text>
<text transform="translate(1630.78,1358.60) scale(1.0501,1)" font-size="19.50" fill="#000" ><tspan >−0.5</tspan></text>
<text transform="translate(1750.86,1358.60) scale(1.0724,1)" font-size="19.50" fill="#000" ><tspan >0.0</tspan></text>
<text transform="translate(1862.08,1358.60) scale(1.0530,1)" font-size="19.50" fill="#000" ><tspan >0.5</tspan></text>
<text transform="translate(1948.42,1358.60) scale(1.0777,1)" font-size="19.50" fill="#000" ><tspan >1.0</tspan></text>
<text transform="translate(1600.28,1429.90) scale(1.0155,1)" font-size="35.90" fill="#000" ><tspan >Reference site</tspan></text>
</svg>
</body></html>
